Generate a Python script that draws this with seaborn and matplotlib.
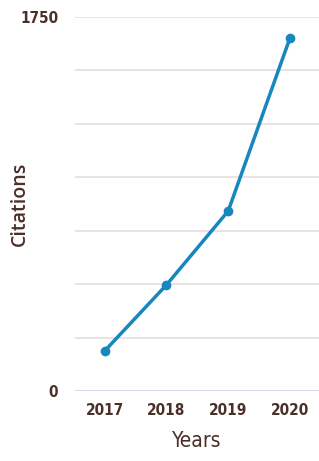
import numpy as np
import pandas as pd
import matplotlib
matplotlib.use("Agg")
import matplotlib.pyplot as plt
import seaborn as sns

# Datos
anios = ["2017", "2018", "2019", "2020"]
citas = [187, 496, 842, 1652]
ticks_y = [0, 1750]

sns.set_theme(style="white")
plt.rcParams['font.family'] = ['DejaVu Sans']
plt.rcParams['font.stretch'] = 'condensed'

color_texto = '#4a3028'
color_linea = '#1787bd'

df = pd.DataFrame({'Years': anios, 'Citations': citas})
df['pos'] = np.arange(len(anios))

fig = plt.figure(figsize=(3.19, 4.61), dpi=100)
ax = fig.add_axes([0.235, 0.152, 0.765, 0.811])

# lineas de referencia cada 250
for v in range(250, 1751, 250):
    ax.axhline(v, color='#e5dedc', linewidth=1.2, zorder=0)
ax.axhline(0, color='#c9c8e3', linewidth=1.8, zorder=0)

sns.lineplot(data=df, x='pos', y='Citations', ax=ax, color=color_linea,
             linewidth=2.5, marker='o', markersize=7, markeredgewidth=0)

ax.set_xlim(-0.48, 3.47)
ax.set_ylim(0, 1750)
ax.set_xticks(df['pos'])
ax.set_xticklabels(anios)
ax.set_yticks(ticks_y)
ax.set_yticklabels([str(t) for t in ticks_y])
ax.tick_params(axis='both', length=0, labelsize=11, colors=color_texto)
ax.tick_params(axis='y', pad=12)
ax.tick_params(axis='x', pad=9)
for lab in ax.get_xticklabels() + ax.get_yticklabels():
    lab.set_fontweight('bold')
for s in ax.spines.values():
    s.set_visible(False)

ax.set_xlabel('Years', fontsize=15, color=color_texto, labelpad=9)
ax.set_ylabel('Citations', fontsize=14, color=color_texto, family='Open Sans',
              fontstretch='normal', fontweight='semibold')
ax.yaxis.set_label_coords(-0.185, 0.5)

fig.savefig('out.png', dpi=100)
